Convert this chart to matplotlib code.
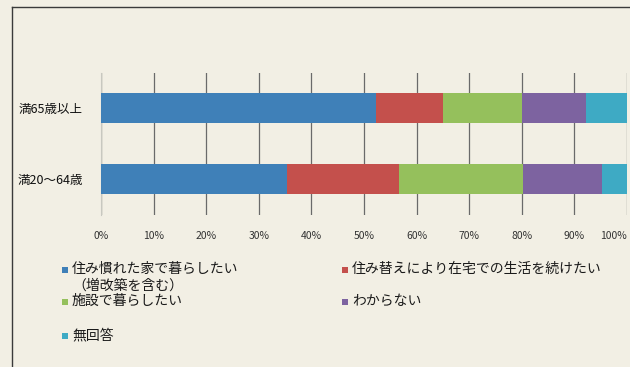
import numpy as np
import matplotlib.pyplot as plt
from matplotlib.patches import Rectangle

plt.rcParams['font.family'] = ['Noto Sans CJK JP', 'DejaVu Sans']

# data (percent)
groups = ['満65歳以上', '満20～64歳']
series = ['住み慣れた家で暮らしたい\n（増改築を含む）',
          '住み替えにより在宅での生活を続けたい',
          '施設で暮らしたい',
          'わからない',
          '無回答']
values = np.array([
    [52.3, 35.4],
    [12.7, 21.3],
    [15.0, 23.5],
    [12.3, 15.0],
    [7.7, 4.8],
])
colors = ['#3f80b8', '#c4504c', '#95c05c', '#7d63a0', '#3eaac4']
xticks = np.arange(0, 101, 10)
xticklabels = ['{}%'.format(t) for t in xticks]

bg = '#f2efe4'
W, H = 630, 367

fig = plt.figure(figsize=(6.3, 3.67), dpi=100, facecolor=bg)
ax = fig.add_axes([101 / W, 1 - 214.5 / H, 526 / W, 142 / H])
ax.set_facecolor(bg)

y = np.arange(len(groups))
left = np.zeros(len(groups))
for vals, c in zip(values, colors):
    ax.barh(y, vals, left=left, height=0.42, color=c, zorder=3)
    left += vals

ax.set_xlim(0, 100)
ax.set_ylim(-0.5, 1.5)
ax.invert_yaxis()
ax.set_xticks(xticks)
ax.set_xticklabels(xticklabels, fontsize=7.5, color='#333333')
# last label sits at the right edge, keep it inside the picture
ax.get_xticklabels()[-1].set_horizontalalignment('right')
ax.set_yticks(y)
ax.set_yticklabels(groups, fontsize=9, color='#111111')
ax.tick_params(axis='x', length=0, pad=12)
ax.tick_params(axis='y', length=0, pad=13)
ax.xaxis.grid(True, color='#6a6a6a', linewidth=0.9, zorder=0)
for s in ['top', 'right', 'bottom']:
    ax.spines[s].set_visible(False)
ax.spines['left'].set_color('#c8c8c0')

# chart frame (scanned page edge)
fig.add_artist(plt.Line2D([12 / W, 1], [1 - 7 / H, 1 - 7 / H], color='#3a3a3a', linewidth=1.0))
fig.add_artist(plt.Line2D([12 / W, 12 / W], [0, 1 - 7 / H], color='#3a3a3a', linewidth=1.0))

# legend laid out as in the original (two columns, row-major)
leg_pos = [(62, 270), (342, 270), (62, 302), (342, 302), (62, 336)]
for (px, py), label, c in zip(leg_pos, series, colors):
    fig.add_artist(Rectangle((px / W, 1 - (py + 3) / H), 6 / W, 6 / H,
                             facecolor=c, edgecolor='none'))
    fig.text((px + 10) / W, 1 - (py - 8) / H, label, fontsize=10,
             color='#1a1a1a', va='top', ha='left', linespacing=1.2)

fig.savefig('out.png', dpi=100, facecolor=bg)
